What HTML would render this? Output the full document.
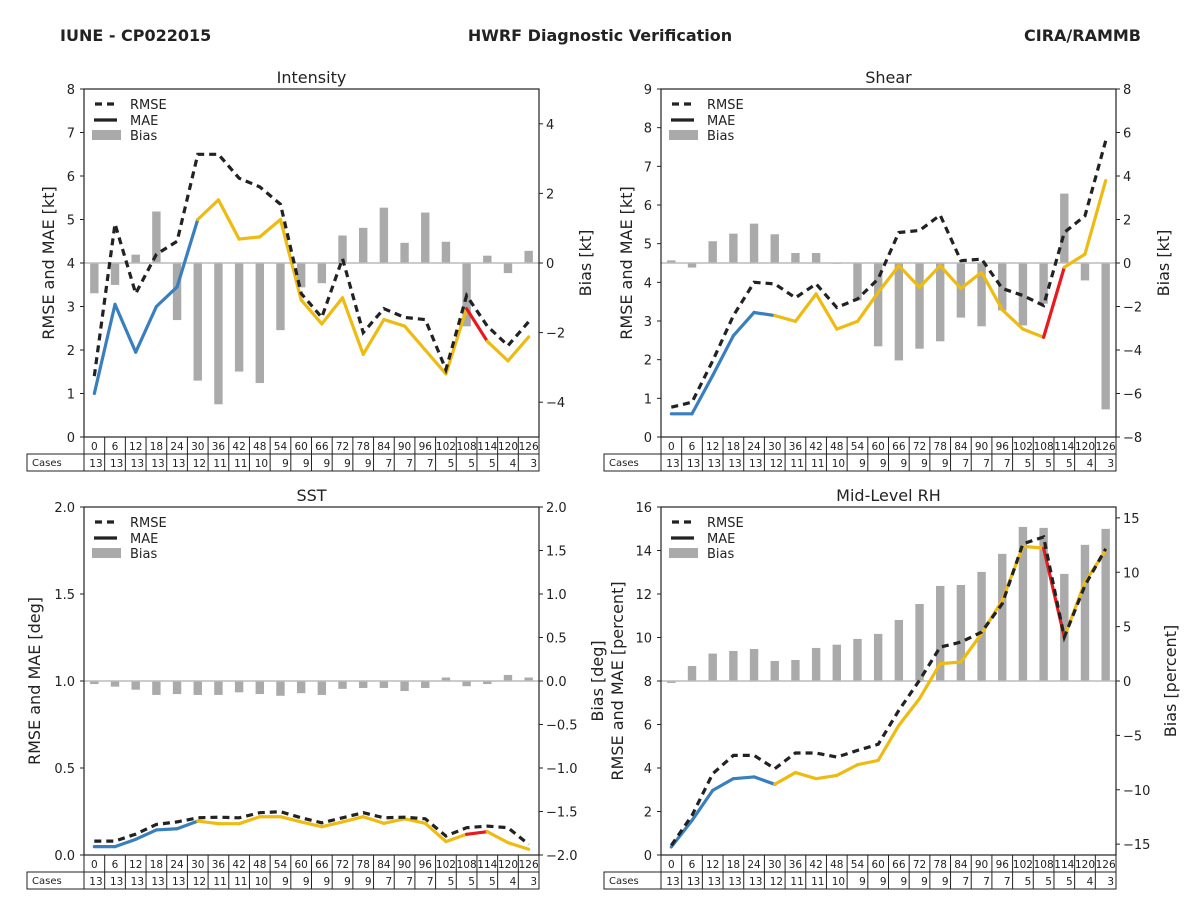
<!DOCTYPE html>
<html><head><meta charset="utf-8"><style>
html,body{margin:0;padding:0;background:#fff;}
svg{display:block;font-family:"DejaVu Sans","Liberation Sans",sans-serif;}
</style></head><body>
<svg id="fig" width="1200" height="900" viewBox="0 0 1200 900" xmlns="http://www.w3.org/2000/svg">
<text x="60" y="41" font-size="16" font-weight="bold" fill="#222">IUNE - CP022015</text>
<text x="600" y="41" font-size="16" font-weight="bold" fill="#222" text-anchor="middle">HWRF Diagnostic Verification</text>
<text x="1141" y="41" font-size="16" font-weight="bold" fill="#222" text-anchor="end">CIRA/RAMMB</text>
</svg>
<script>
const leadHours=[0,6,12,18,24,30,36,42,48,54,60,66,72,78,84,90,96,102,108,114,120,126];
const cases=[13,13,13,13,13,12,11,11,10,9,9,9,9,9,7,7,7,5,5,5,4,3];
const intRmse=[1.4,4.9,3.3,4.2,4.5,6.5,6.5,5.95,5.75,5.35,3.3,2.75,4.1,2.4,2.95,2.75,2.7,1.55,3.25,2.55,2.1,2.65];
const intMae=[1.0,3.05,1.95,3.0,3.45,5.0,5.45,4.55,4.6,5.0,3.15,2.6,3.2,1.9,2.7,2.55,2.0,1.45,2.95,2.2,1.75,2.3];
const intBias=[-0.87,-0.63,0.24,1.48,-1.64,-3.38,-4.06,-3.12,-3.45,-1.93,-0.7,-0.58,0.79,1.01,1.59,0.58,1.45,0.61,-1.82,0.21,-0.29,0.35];
const shrRmse=[0.77,0.9,1.97,3.14,4.0,3.96,3.6,3.96,3.35,3.57,4.09,5.29,5.34,5.74,4.56,4.6,3.84,3.66,3.4,5.29,5.72,7.66];
const shrMae=[0.6,0.6,1.59,2.62,3.22,3.14,2.99,3.7,2.79,2.99,3.74,4.43,3.87,4.43,3.84,4.26,3.29,2.79,2.58,4.39,4.73,6.63];
const shrBias=[0.12,-0.21,1.0,1.35,1.81,1.32,0.46,0.46,-0.03,-1.72,-3.83,-4.48,-3.94,-3.6,-2.51,-2.91,-2.18,-2.87,-1.87,3.19,-0.8,-6.73];
const sstRmse=[0.08,0.08,0.12,0.176,0.19,0.214,0.217,0.214,0.243,0.249,0.214,0.185,0.214,0.243,0.214,0.217,0.208,0.109,0.157,0.166,0.157,0.061];
const sstMae=[0.048,0.048,0.09,0.144,0.151,0.195,0.18,0.18,0.22,0.22,0.19,0.163,0.19,0.22,0.182,0.208,0.182,0.077,0.119,0.134,0.071,0.033];
const sstBias=[-0.035,-0.065,-0.1,-0.16,-0.15,-0.16,-0.16,-0.13,-0.15,-0.17,-0.14,-0.16,-0.09,-0.08,-0.08,-0.115,-0.08,0.04,-0.06,-0.035,0.07,0.04];
const rhRmse=[0.44,1.82,3.74,4.58,4.58,3.97,4.69,4.69,4.5,4.81,5.09,6.65,8.03,9.56,9.79,10.25,11.56,14.31,14.62,10.02,12.4,14.08];
const rhMae=[0.37,1.59,2.97,3.51,3.59,3.25,3.79,3.51,3.66,4.15,4.35,5.96,7.19,8.8,8.87,10.18,11.71,14.19,14.11,10.02,12.55,14.0];
const rhBias=[-0.18,1.38,2.52,2.76,2.94,1.84,1.93,3.04,3.34,3.87,4.33,5.61,7.08,8.74,8.83,10.03,11.69,14.17,14.08,9.85,12.52,13.99];
const intLeftTicks=[0,1,2,3,4,5,6,7,8];
const intRightTicks=[-4,-2,0,2,4];
const shrLeftTicks=[0,1,2,3,4,5,6,7,8,9];
const shrRightTicks=[-8,-6,-4,-2,0,2,4,6,8];
const sstLeftTicks=[0.0,0.5,1.0,1.5,2.0];
const sstRightTicks=[-2.0,-1.5,-1.0,-0.5,0.0,0.5,1.0,1.5,2.0];
const rhLeftTicks=[0,2,4,6,8,10,12,14,16];
const rhRightTicks=[-15,-10,-5,0,5,10,15];

const NS="http://www.w3.org/2000/svg";
const fig=document.getElementById('fig');
function mk(tag,attrs,parent,txt){const e=document.createElementNS(NS,tag);for(const k in attrs)e.setAttribute(k,attrs[k]);if(txt!==undefined)e.textContent=txt;(parent||fig).appendChild(e);return e;}

function panel(cfg){
  const g=mk('g',{});
  
  
  const L=cfg.x,T=cfg.y,W=455,H=348,R=L+W,B=T+H;
  const n=leadHours.length,cw=W/n;
  const xs=i=>L+cw*(i+0.5);
  const yl=v=>B-(v-cfg.lmin)/(cfg.lmax-cfg.lmin)*H;
  const yr=v=>B-(v-cfg.rmin)/(cfg.rmax-cfg.rmin)*H;
  // title
  const t=mk('text',{x:L+W/2,y:T-6,'font-size':16,'text-anchor':'middle',fill:'#222'},g,cfg.title);
  
  
  // bias bars
  cfg.bias.forEach((v,i)=>{
    const y0=yr(0),y1=yr(v);
    const b=mk('rect',{x:xs(i)-4.2,y:Math.min(y0,y1),width:8.4,height:Math.max(0.8,Math.abs(y1-y0)),fill:'#aaaaaa'},g);
    
    
  });
  const z=mk('line',{x1:L,x2:R,y1:yr(0),y2:yr(0),stroke:'#bbbbbb','stroke-width':1.5},g);
  
  
  // MAE segments
  const segColor=i=>i<5?'#3a7fbd':(i===18?'#e8191f':'#eebb12');
  for(let i=0;i<n-1;i++){
    const s=mk('line',{x1:xs(i),y1:yl(cfg.mae[i]),x2:xs(i+1),y2:yl(cfg.mae[i+1]),stroke:segColor(i),'stroke-width':3.2,'stroke-linecap':'round'},g);
    
    
  }
  const pts=cfg.rmse.map((v,i)=>xs(i).toFixed(1)+','+yl(v).toFixed(1)).join(' ');
  const rl=mk('polyline',{points:pts,fill:'none',stroke:'#222','stroke-width':3.2,'stroke-dasharray':'7,5'},g);
  
  
  // frame
  const fr=mk('rect',{x:L,y:T,width:W,height:H,fill:'none',stroke:'#222','stroke-width':1.2},g);
  
  
  // left ticks
  cfg.lt.forEach(v=>{
    mk('line',{x1:L-4,x2:L,y1:yl(v),y2:yl(v),stroke:'#222'},g);
    const tl=mk('text',{x:L-9,y:yl(v)+5,'font-size':13,'text-anchor':'end',fill:'#222'},g,cfg.fmtL(v));
    
    
  });
  cfg.rt.forEach(v=>{
    mk('line',{x1:R,x2:R+4,y1:yr(v),y2:yr(v),stroke:'#222'},g);
    const tl=mk('text',{x:R+7,y:yr(v)+5,'font-size':13,fill:'#222'},g,cfg.fmtR(v));
    
    
  });
  const la=mk('text',{x:0,y:0,'font-size':16,'text-anchor':'middle',fill:'#222',transform:`translate(${cfg.lx},${T+H/2}) rotate(-90)`},g,cfg.ylab);
  
  
  const ra=mk('text',{x:0,y:0,'font-size':16,'text-anchor':'middle',fill:'#222',transform:`translate(${cfg.rx},${T+H/2}) rotate(-90)`},g,cfg.rlab);
  
  
  // legend
  const lg=mk('g',{},g);
  
  
  mk('line',{x1:L+11,x2:L+32,y1:T+15,y2:T+15,stroke:'#222','stroke-width':3.2,'stroke-dasharray':'7,5'},lg);
  mk('text',{x:L+46,y:T+20,'font-size':13,fill:'#222'},lg,'RMSE');
  mk('line',{x1:L+10,x2:L+33,y1:T+31,y2:T+31,stroke:'#222','stroke-width':3.2},lg);
  mk('text',{x:L+46,y:T+36,'font-size':13,fill:'#222'},lg,'MAE');
  mk('rect',{x:L+8,y:T+41,width:29,height:10,fill:'#aaaaaa'},lg);
  mk('text',{x:L+46,y:T+51,'font-size':13,fill:'#222'},lg,'Bias');
  // table
  const tb=mk('g',{},g);
  
  
  const r1=B,r2=B+17,r3=B+34;
  mk('rect',{x:L,y:r1,width:W,height:17,fill:'none',stroke:'#222'},tb);
  mk('rect',{x:L-57,y:r2,width:W+57,height:17,fill:'none',stroke:'#222'},tb);
  mk('text',{x:L-52,y:r2+12,'font-size':10,fill:'#222'},tb,'Cases');
  for(let i=0;i<=n;i++){const x=L+cw*i;mk('line',{x1:x,x2:x,y1:r1,y2:r3,stroke:'#222'},tb);}
  leadHours.forEach((h,i)=>{
    mk('text',{x:xs(i),y:r1+13,'font-size':10.5,'text-anchor':'middle',fill:'#222'},tb,String(h));
    mk('text',{x:L+cw*(i+1)-2,y:r2+13,'font-size':10.5,'text-anchor':'end',fill:'#222'},tb,String(cases[i]));
  });
}
const f0=v=>String(v), f1=v=>v.toFixed(1), fm=v=>(v<0?'\u2212'+Math.abs(v):String(v)), fm1=v=>(v<0?'\u2212'+Math.abs(v).toFixed(1):v.toFixed(1));
panel({name:'intensity',title:'Intensity',x:84,y:89,lmin:0,lmax:8,rmin:-5,rmax:5,rmse:intRmse,mae:intMae,bias:intBias,lt:intLeftTicks,rt:intRightTicks,fmtL:f0,fmtR:fm,ylab:'RMSE and MAE [kt]',rlab:'Bias [kt]',lx:54,rx:591});
panel({name:'shear',title:'Shear',x:661,y:89,lmin:0,lmax:9,rmin:-8,rmax:8,rmse:shrRmse,mae:shrMae,bias:shrBias,lt:shrLeftTicks,rt:shrRightTicks,fmtL:f0,fmtR:fm,ylab:'RMSE and MAE [kt]',rlab:'Bias [kt]',lx:632,rx:1169});
panel({name:'sst',title:'SST',x:84,y:507,lmin:0,lmax:2,rmin:-2,rmax:2,rmse:sstRmse,mae:sstMae,bias:sstBias,lt:sstLeftTicks,rt:sstRightTicks,fmtL:f1,fmtR:fm1,ylab:'RMSE and MAE [deg]',rlab:'Bias [deg]',lx:40,rx:603});
panel({name:'mid-level-rh',title:'Mid-Level RH',x:661,y:507,lmin:0,lmax:16,rmin:-16,rmax:16,rmse:rhRmse,mae:rhMae,bias:rhBias,lt:rhLeftTicks,rt:rhRightTicks,fmtL:f0,fmtR:fm,ylab:'RMSE and MAE [percent]',rlab:'Bias [percent]',lx:623,rx:1176});
</script>
</body></html>
